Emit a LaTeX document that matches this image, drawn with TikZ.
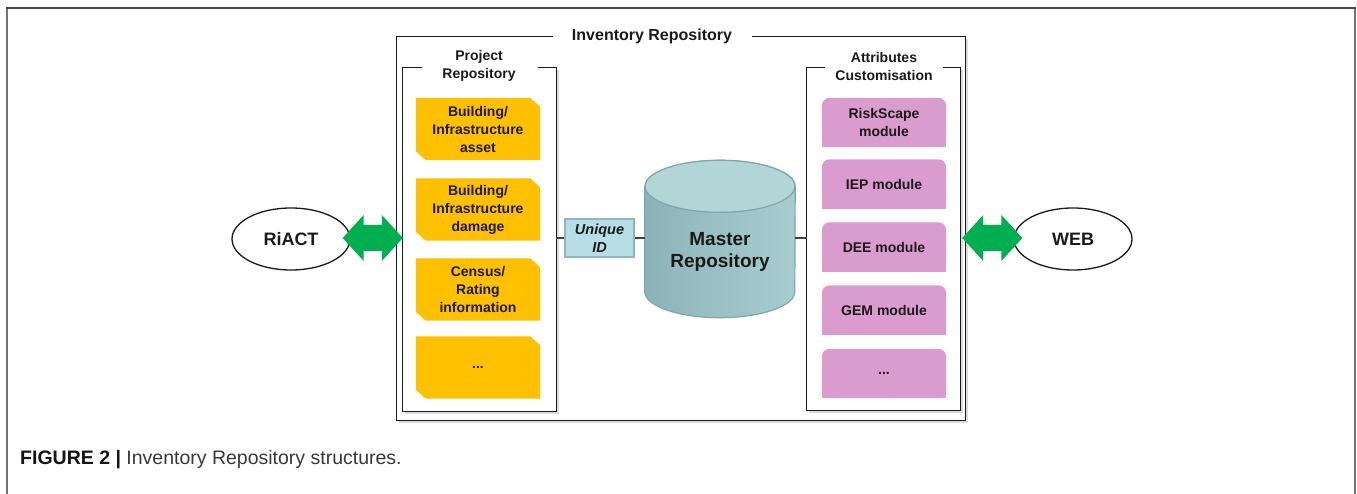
\documentclass[tikz,border=0pt]{standalone}
\usepackage{fontspec}
\setmainfont{Liberation Sans}
\usetikzlibrary{calc,backgrounds,shapes.geometric}

\definecolor{amber}{HTML}{FFC000}
\definecolor{orchid}{HTML}{DA9BCF}
\definecolor{aqua}{HTML}{B7DDE6}
\definecolor{aquaedge}{HTML}{8FB5BC}
\definecolor{tealdark}{HTML}{8CB4B8}
\definecolor{teallight}{HTML}{A8CDD0}
\definecolor{tealtop}{HTML}{B2D6D8}
\definecolor{tealedge}{HTML}{7FA6AB}
\definecolor{arrowgreen}{HTML}{00B050}
\definecolor{ink}{HTML}{1A1A1A}

\tikzset{
  lbl/.style={font=\bfseries\fontsize{14}{18}\selectfont, align=center, text=ink},
  yitem/.style={lbl, minimum width=124, minimum height=62, inner sep=0},
  pitem/.style={lbl, minimum width=124, minimum height=49, inner sep=0},
  frame/.style={minimum width=#1, inner sep=0},
  panel/.style={line width=1.3, draw=ink},
  soft/.style={line width=2.4, draw=black!14},
  ext/.style={draw=ink, ellipse, line width=1.3, minimum width=118, minimum height=62,
              font=\bfseries\fontsize{18}{20}\selectfont, text=ink},
  fat/.style={fill=arrowgreen},
  wire/.style={line width=1.2, draw=black!75}
}

\begin{document}
\begin{tikzpicture}[x=1pt, y=-1pt]
\useasboundingbox (0,0) rectangle (1357,494);

% page frame (open at the bottom)
\draw[line width=1.6, draw=black!55] (7,494) -- (7,8);
\draw[line width=1.6, draw=black!55] (1355,494) -- (1355,8);
\draw[line width=1.6, draw=black!72] (6.2,8) -- (1355.8,8);

% containers
\node[frame=568, minimum height=383] (inv) at (681,228.5) {};
\node[frame=153, minimum height=343] (proj) at (479.5,239.5) {};
\node[frame=153, minimum height=342] (attr) at (883.5,239) {};

\node[font=\bfseries\fontsize{16}{18}\selectfont, text=ink] (invt) at (652,36) {Inventory Repository};
\node[lbl] (projt) at (479,66) {Project\\Repository};
\node[lbl] (attrt) at (884,66) {Attributes\\Customisation};

% soft shadows under the frames
\draw[soft] ($(inv.north east)+(2,2)$) -- ($(inv.south east)+(2,2)$) -- ($(inv.south west)+(2,2)$);
\draw[soft] ($(proj.north east)+(2,2)$) -- ($(proj.south east)+(2,2)$) -- ($(proj.south west)+(2,2)$);
\draw[soft] ($(attr.north east)+(2,2)$) -- ($(attr.south east)+(2,2)$) -- ($(attr.south west)+(2,2)$);

% frames with gaps for their titles
\draw[panel] ($(inv.north west)+(156,0)$) -- (inv.north west) -- (inv.south west)
  -- (inv.south east) -- (inv.north east) -- ($(inv.north east)+(-213,0)$);
\draw[panel] ($(proj.north west)+(19,0)$) -- (proj.north west) -- (proj.south west)
  -- (proj.south east) -- (proj.north east) -- ($(proj.north east)+(-18,0)$);
\draw[panel] ($(attr.north west)+(18,0)$) -- (attr.north west) -- (attr.south west)
  -- (attr.south east) -- (attr.north east) -- ($(attr.north east)+(-17,0)$);

% project items
\node[yitem] (y1) at (478,129)   {Building/\\Infrastructure\\asset};
\node[yitem] (y2) at (478,209.5) {Building/\\Infrastructure\\damage};
\node[yitem] (y3) at (478,289.5) {Census/\\Rating\\information};
\node[yitem] (y4) at (478,367.5) {...};

% attribute modules
\node[pitem] (m1) at (884,122.5) {RiskScape\\module};
\node[pitem] (m2) at (884,184)   {IEP module};
\node[pitem] (m3) at (884,247)   {DEE module};
\node[pitem] (m4) at (884,310)   {GEM module};
\node[pitem] (m5) at (884,373.5) {...};

\begin{scope}[on background layer]
  \foreach \n in {y1,y2,y3,y4}
    \fill[amber] (\n.north west) -- ($(\n.north east)+(-10,0)$) -- ($(\n.north east)+(0,9)$)
      -- (\n.south east) -- ($(\n.south west)+(10,0)$) -- ($(\n.south west)+(0,-9)$) -- cycle;
  \foreach \n in {m1,m2,m3,m4,m5} {
    \fill[orchid, rounded corners=8] (\n.south west) rectangle (\n.north east);
    \fill[orchid] (\n.south west) rectangle (\n.east);
  }
\end{scope}

% unique identifier
\node[draw=aquaedge, fill=aqua, line width=1.5, minimum width=69, minimum height=38, inner sep=0,
      font=\bfseries\itshape\fontsize{14.5}{18}\selectfont, align=center, text=ink]
      (uid) at (599.5,238) {Unique\\ID};

% master repository (cylinder)
\node[minimum width=150, minimum height=131, inner sep=0] (master) at (720,252) {};
\draw[tealedge, line width=1.2, left color=tealdark, right color=teallight]
  (master.north west) -- ($(master.south west)+(0,-26)$)
  arc[start angle=180, end angle=0, x radius=75, y radius=26]
  -- (master.north east)
  arc[start angle=0, end angle=-180, x radius=75, y radius=26] -- cycle;
\draw[tealedge, line width=1.2, fill=tealtop] (master.north) ellipse [x radius=75, y radius=26];
\node[font=\bfseries\fontsize{19}{22}\selectfont, align=center, text=ink] at (master.center) {Master\\Repository};

% links
\draw[wire] (uid.west) -- (uid.west -| proj.east);
\draw[wire] (uid.east) -- (uid.east -| master.west);
\draw[wire] (uid.east -| master.east) -- (uid.east -| attr.west);

% external systems
\node[ext] (riact) at (291,239) {RiACT};
\node[ext] (web) at (1073,239) {WEB};

% two-way exchange arrows
\coordinate (la) at ($(riact.east)+(-8,-1)$);
\coordinate (lb) at (proj.west |- la);
\coordinate (ra) at ($(attr.east |- la)+(2,0)$);
\coordinate (rb) at ($(web.west)+(9,-1)$);
\foreach \a/\b in {la/lb, ra/rb}
  \fill[fat] (\a) -- ($(\a)+(21,-23)$) -- ($(\a)+(21,-13)$) -- ($(\b)+(-21,-13)$)
    -- ($(\b)+(-21,-23)$) -- (\b) -- ($(\b)+(-21,23)$) -- ($(\b)+(-21,13)$)
    -- ($(\a)+(21,13)$) -- ($(\a)+(21,23)$) -- cycle;

% caption
\node[anchor=west, font=\fontsize{19.5}{22}\selectfont, text=black!78, inner sep=0] (cap) at (20,460)
  {\textbf{\color{black!92}FIGURE 2 |} Inventory Repository structures.};
\end{tikzpicture}
\end{document}
